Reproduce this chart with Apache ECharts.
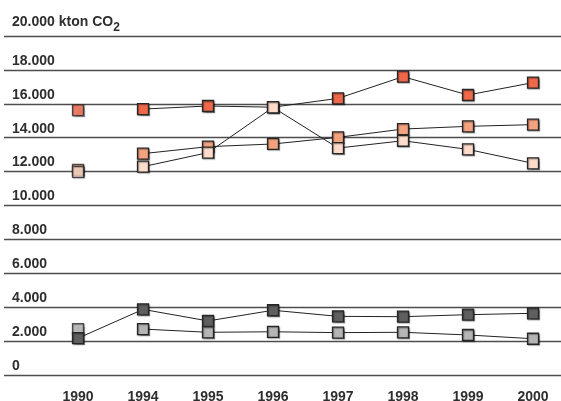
<!DOCTYPE html>
<html>
<head>
<meta charset="utf-8">
<script src="https://cdn.jsdelivr.net/npm/echarts@6/dist/echarts.min.js"></script>
<style>html,body{margin:0;padding:0;background:#fff;}#c{width:561px;height:401px;}</style>
</head>
<body>
<div id="c"></div>
<script>
var years = ['1990','1994','1995','1996','1997','1998','1999','2000'];
var yTickLabels = ['0','2.000','4.000','6.000','8.000','10.000','12.000','14.000','16.000','18.000','20.000'];
var yUnit = 'kton CO';
var yUnitSub = '2';
var seriesDark   = [2170, 3870, 3190, 3820, 3460, 3440, 3560, 3640];
var seriesLight  = [2710, 2710, 2520, 2550, 2500, 2520, 2360, 2140];
var seriesOrange = [15630, 15690, 15870, 15800, 16320, 17600, 16520, 17250];
var seriesSalmon = [12100, 13060, 13470, 13630, 14020, 14510, 14670, 14770];
var seriesPeach  = [11980, 12290, 13120, 15790, 13390, 13820, 13310, 12490];

var FONT = "'Liberation Sans',Arial,sans-serif";
var defs = [
  {data: seriesDark,   color: '#5f5f5f', join1990: true},
  {data: seriesLight,  color: '#b5b5b5', join1990: false},
  {data: seriesOrange, color: '#f0684a', join1990: false},
  {data: seriesSalmon, color: '#f5a27f', join1990: false},
  {data: seriesPeach,  color: '#fddccb', join1990: false}
];
var itemStyle = function(c){ return {color: c, borderColor: '#262626', borderWidth: 1.3,
  shadowColor: 'rgba(0,0,0,0.35)', shadowOffsetX: 1, shadowOffsetY: 1, shadowBlur: 1}; };
var series = [];
defs.forEach(function(d){
  var lineData = d.data.slice();
  if (!d.join1990) lineData[0] = '-';
  series.push({type: 'line', xAxisIndex: 1, yAxisIndex: 1, data: lineData,
    symbol: 'rect', symbolSize: 11, showAllSymbol: true, animation: false,
    lineStyle: {color: '#222', width: 1}, itemStyle: itemStyle(d.color)});
  if (!d.join1990) {
    var pt = d.data.map(function(v, i){ return i === 0 ? v : '-'; });
    series.push({type: 'scatter', xAxisIndex: 1, yAxisIndex: 1, data: pt,
      symbol: 'rect', symbolSize: 11, animation: false, itemStyle: itemStyle(d.color)});
  }
});
var chart = echarts.init(document.getElementById('c'), null, {renderer: 'canvas'});
chart.setOption({
  animation: false,
  grid: [
    {left: 4, right: 0, top: 36, bottom: 26, outerBoundsMode: 'none'},
    {left: 78, right: 28, top: 36, bottom: 26, outerBoundsMode: 'none'}
  ],
  xAxis: [
    {gridIndex: 0, type: 'value', show: false, min: 0, max: 1},
    {gridIndex: 1, type: 'category', data: years, boundaryGap: false,
     axisLine: {show: false}, axisTick: {show: false}, splitLine: {show: false},
     axisLabel: {margin: 15, color: '#2e2e2e', fontWeight: 'bold', fontSize: 14, fontFamily: FONT}}
  ],
  yAxis: [
    {gridIndex: 0, type: 'value', min: 0, max: 20000, interval: 2000,
     axisLine: {show: false}, axisTick: {show: false},
     splitLine: {show: true, lineStyle: {color: '#4d4d4d', width: 1.4}},
     axisLabel: {inside: true, margin: 8, align: 'left', verticalAlign: 'bottom',
       padding: [0, 0, 2, 0], color: '#2e2e2e', fontWeight: 'bold', fontSize: 14, fontFamily: FONT,
       formatter: function(v){
         var t = yTickLabels[Math.round(v / 2000)];
         if (v === 20000) return '{a|' + t + ' ' + yUnit + '}{s|' + yUnitSub + '}';
         return t;
       },
       rich: {
         a: {fontWeight: 'bold', fontSize: 14, color: '#2e2e2e', fontFamily: FONT, lineHeight: 14, padding: [0, 0, 5, 0], verticalAlign: 'bottom'},
         s: {fontWeight: 'bold', fontSize: 12, color: '#2e2e2e', fontFamily: FONT, lineHeight: 14, verticalAlign: 'bottom'}
       }}},
    {gridIndex: 1, type: 'value', min: 0, max: 20000, interval: 2000, show: false,
     splitLine: {show: false}}
  ],
  series: series
});
</script>
</body>
</html>
